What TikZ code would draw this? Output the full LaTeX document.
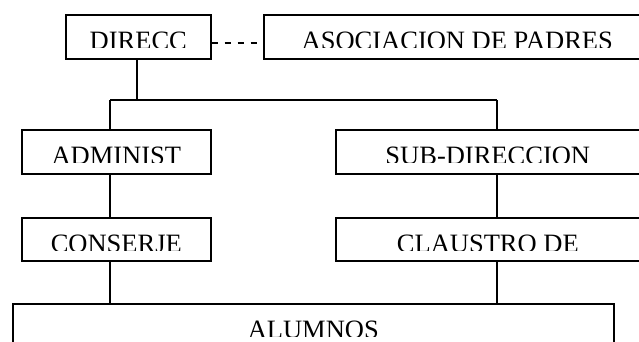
\documentclass[tikz,border=0pt]{standalone}
\usepackage{fontspec}
\setmainfont{Liberation Serif}
\begin{document}
\begin{tikzpicture}[x=1pt,y=-1pt,
  box/.style={draw,line width=1.6pt,inner sep=0pt,anchor=north west},
  lbl/.style={inner sep=0pt,anchor=base,font=\fontsize{26.5}{30}\selectfont},
  conn/.style={line width=1.6pt}]
\useasboundingbox (0,0) rectangle (639,341);
\clip (0,0) rectangle (639,341);
% boxes
\node[box,minimum width=145pt,minimum height=44pt] (direcc) at (65,14) {};
\node[box,minimum width=387pt,minimum height=44pt] (asoc) at (263,14) {};
\node[box,minimum width=189pt,minimum height=44pt] (admin) at (21,129) {};
\node[box,minimum width=304pt,minimum height=44pt] (subdir) at (335,129) {};
\node[box,minimum width=189pt,minimum height=43pt] (conserje) at (21,217) {};
\node[box,minimum width=304pt,minimum height=43pt] (claustro) at (335,217) {};
\node[box,minimum width=601pt,minimum height=80pt] (alumnos) at (12,303) {};
% clipped labels
\foreach \b/\t in {direcc/DIRECC,asoc/ASOCIACION DE PADRES,admin/ADMINIST,subdir/SUB-DIRECCION,conserje/CONSERJE,claustro/CLAUSTRO DE,alumnos/ALUMNOS}{
  \begin{scope}
    \clip ([yshift=-1pt]\b.north west) rectangle ([yshift=-33.5pt]\b.north east);
    \node[lbl] (\b-t) at ([yshift=-35.8pt]\b.north) {\t};
  \end{scope}
}
% connectors
\coordinate (jl) at (110,100);
\coordinate (jr) at (497,100);
\coordinate (jd) at (137,100);
\draw[conn,dash pattern=on 6pt off 7pt] (direcc.east |- 0,43) -- (asoc.west |- 0,43);
\draw[conn] (direcc.south -| jd) -- (jd);
\draw[conn] (jl) -- (jr);
\draw[conn] (jl) -- (admin.north -| jl);
\draw[conn] (jr) -- (subdir.north -| jr);
\draw[conn] (admin.south -| jl) -- (conserje.north -| jl);
\draw[conn] (subdir.south -| jr) -- (claustro.north -| jr);
\draw[conn] (conserje.south -| jl) -- (alumnos.north -| jl);
\draw[conn] (claustro.south -| jr) -- (alumnos.north -| jr);
\end{tikzpicture}
\end{document}
